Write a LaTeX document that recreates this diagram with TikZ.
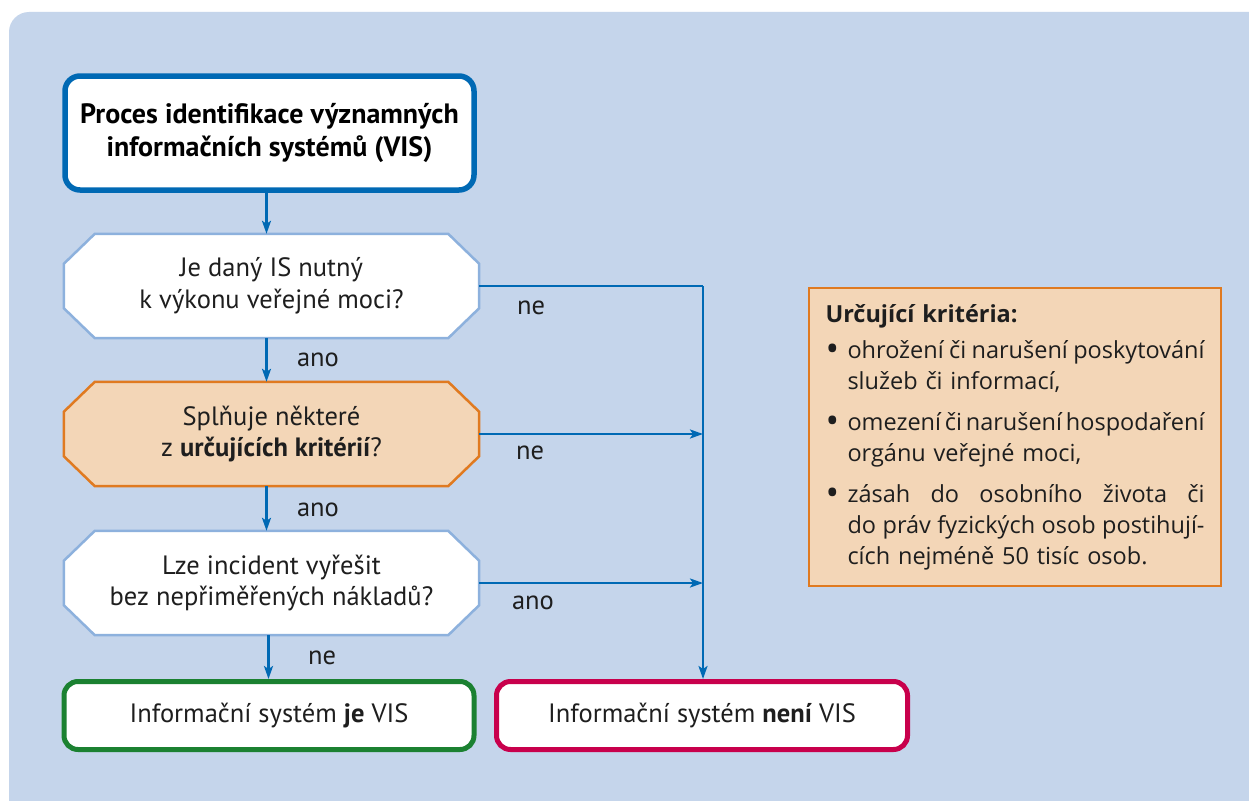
\documentclass[tikz,border=0pt]{standalone}
\usepackage{fontspec}
\setmainfont{PT Sans}
\newfontfamily\critfont{Open Sans}
\usetikzlibrary{arrows.meta,calc}
\definecolor{panel}{RGB}{197,213,235}
\definecolor{lineblue}{RGB}{0,105,180}
\definecolor{octblue}{RGB}{141,177,221}
\definecolor{peach}{RGB}{243,214,183}
\definecolor{orangeb}{RGB}{224,122,32}
\definecolor{greenb}{RGB}{27,129,49}
\definecolor{redb}{RGB}{200,0,76}
\definecolor{txt}{RGB}{30,30,30}
\pgfdeclarelayer{bg}
\pgfdeclarelayer{mid}
\pgfsetlayers{bg,mid,main}
\newcommand\octashape[2]{%
  \begin{pgfonlayer}{mid}
  \path[#2] ($(#1.north west)+(31,0)$) -- ($(#1.north east)+(-31,0)$)
    -- ($(#1.north east)+(0,30)$) -- ($(#1.south east)+(0,-30)$)
    -- ($(#1.south east)+(-31,0)$) -- ($(#1.south west)+(31,0)$)
    -- ($(#1.south west)+(0,-30)$) -- ($(#1.north west)+(0,30)$) -- cycle;
  \end{pgfonlayer}}
\newcommand\critline[1]{\makebox[357pt][l]{#1}}
\newcommand\bul{\makebox[22pt][l]{\raisebox{-3.5pt}{\fontsize{36}{31}\selectfont\textbullet}}}
\tikzset{
  x=1pt, y=-1pt,
  basetext/.style={text=txt, font=\fontsize{26.5}{31.5}\selectfont, align=center},
  octnode/.style={basetext, rectangle, inner sep=0pt, minimum width=415pt, minimum height=104pt},
  octwhite/.style={fill=white, draw=octblue, line width=2.5pt, line join=miter},
  octpeach/.style={fill=peach, draw=orangeb, line width=2.5pt, line join=miter},
  endbox/.style={basetext, rectangle, rounded corners=14pt, fill=white, line width=5pt,
    minimum width=410pt, minimum height=68pt, inner sep=0pt},
  arr/.style={draw=lineblue, line width=2.3pt, -{Stealth[length=13pt,width=9pt,inset=3pt]}},
  conn/.style={draw=lineblue, line width=2.3pt},
  lbl/.style={text=txt, font=\fontsize{26.5}{30}\selectfont, inner sep=0pt},
}
\begin{document}
\begin{tikzpicture}
\useasboundingbox (0,0) rectangle (1249,800);
\begin{pgfonlayer}{bg}
  \fill[white] (0,0) rectangle (1249,800);
  \begin{scope}
    \clip (0,0) rectangle (1249,800);
    \fill[panel, rounded corners=20pt] (9,12) rectangle (1290,840);
  \end{scope}
\end{pgfonlayer}

% title
\node[rectangle, rounded corners=15pt, draw=lineblue, fill=white, line width=5.5pt,
  minimum width=409pt, minimum height=114pt, inner sep=0pt, align=center, text=black,
  font=\bfseries\fontsize{28}{33}\selectfont] (title) at (269.5,133)
  {Proces identifikace významných\\informačních systémů (VIS)};

% decisions
\node[octnode] (q1) at (271.5,286) {Je daný IS nutný\\k výkonu veřejné moci?};
\octashape{q1}{octwhite}
\node[octnode] (q2) at (271.5,434) {Splňuje některé\\z \textbf{určujících kritérií}?};
\octashape{q2}{octpeach}
\node[octnode] (q3) at (271.5,583) {Lze incident vyřešit\\bez nepřiměřených nákladů?};
\octashape{q3}{octwhite}

% results
\node[endbox, draw=greenb] (yes) at (269,715.5) {Informační systém \textbf{je} VIS};
\node[endbox, draw=redb, minimum width=411pt] (no) at (702,715.5) {Informační systém \textbf{není} VIS};

% criteria box
\node[rectangle, fill=peach, draw=orangeb, line width=2.5pt, minimum width=412pt,
  minimum height=298pt, inner sep=0pt, text width=379pt, align=left, text=txt,
  font=\critfont\fontsize{23.5}{31}\selectfont] (crit) at (1015,437)
  {\textbf{Určující kritéria:}\\[5pt]
   \bul\critline{ohrožení\hfill či\hfill narušení\hfill poskytování}\\
   \hspace*{22pt}služeb či informací,\\[10pt]
   \bul\critline{omezení\hfill či\hfill narušení\hfill hospodaření}\\
   \hspace*{22pt}orgánu veřejné moci,\\[10pt]
   \bul\critline{zásah\hfill do\hfill osobního\hfill života\hfill či}\\
   \hspace*{22pt}\critline{do\hfill práv\hfill fyzických\hfill osob\hfill postihují-}\\
   \hspace*{22pt}cích nejméně 50 tisíc osob.};

% vertical flow
\draw[arr] ([xshift=-3pt]title.south) -- ([xshift=-3pt]title.south |- q1.north);
\draw[arr] ([xshift=-5pt]q1.south) -- ([xshift=-5pt]q1.south |- q2.north);
\draw[arr] ([xshift=-5pt]q2.south) -- ([xshift=-5pt]q2.south |- q3.north);
\draw[arr] ([xshift=-3pt]q3.south) -- ([xshift=-3pt]q3.south |- yes.north);

% right side
\coordinate (j1) at ([xshift=1pt]no.north |- q1.east);
\draw[conn] (q1.east) -- (j1);
\draw[arr] (j1) -- (j1 |- no.north);
\draw[arr] (q2.east) -- (j1 |- q2.east);
\draw[arr] (q3.east) -- (j1 |- q3.east);

% labels
\node[lbl] (l1) at (318,360) {ano};
\node[lbl] (l2) at (318,510) {ano};
\node[lbl] (l3) at (322,658) {ne};
\node[lbl] (l4) at (531,308) {ne};
\node[lbl] (l5) at (530,453) {ne};
\node[lbl] (l6) at (533,603) {ano};
\end{tikzpicture}
\end{document}
